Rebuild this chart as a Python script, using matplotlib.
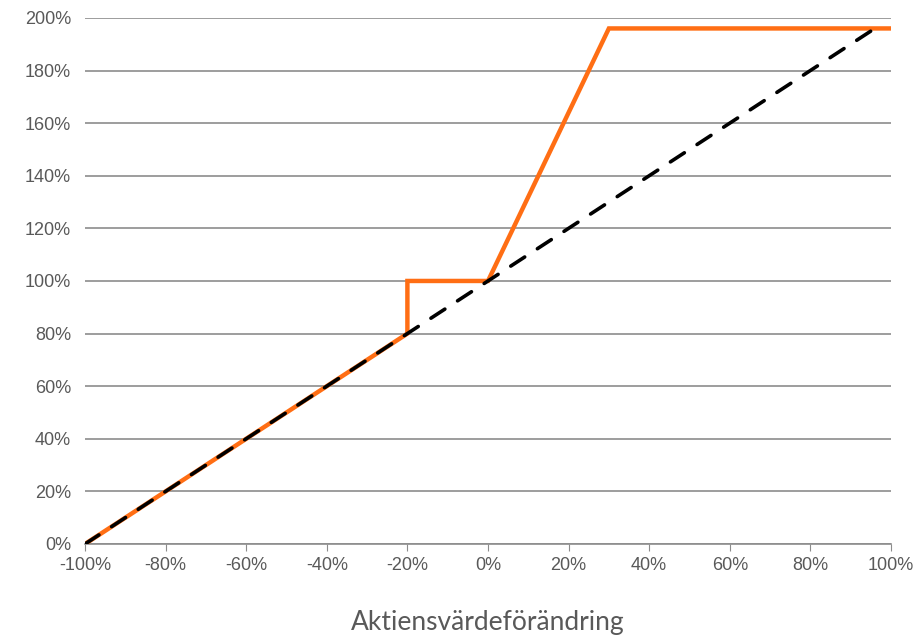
import matplotlib.pyplot as plt
from matplotlib.ticker import FuncFormatter

# Data (percent)
orange_x = [-100, -20, -20, 0, 30, 100]
orange_y = [0, 80, 100, 100, 196, 196]
dashed_x = [-100, 98]
dashed_y = [0, 198]
x_ticks = list(range(-100, 101, 20))
y_ticks = list(range(0, 201, 20))

plt.rcParams['font.family'] = ['Liberation Sans', 'DejaVu Sans']

fig = plt.figure(figsize=(9.19, 6.4), dpi=100)
ax = fig.add_axes([0.0925, 0.15, 0.877, 0.822])

ax.plot(orange_x, orange_y, color='#FF6E14', lw=3.2, solid_joinstyle='miter', zorder=3)
ax.plot(dashed_x, dashed_y, color='black', lw=2.6, dashes=(4.6, 4.2),
        dash_capstyle='round', zorder=4)

ax.set_xlim(-100, 100)
ax.set_ylim(0, 200)
ax.set_xticks(x_ticks)
ax.set_yticks(y_ticks)
fmt = FuncFormatter(lambda v, p: f'{int(v)}%')
ax.xaxis.set_major_formatter(fmt)
ax.yaxis.set_major_formatter(fmt)

ax.grid(axis='y', color='#8C8C8C', lw=1.2)
ax.set_axisbelow(True)
for s in ['top', 'right', 'left']:
    ax.spines[s].set_visible(False)
ax.spines['bottom'].set_color('#8C8C8C')
ax.spines['bottom'].set_linewidth(1.2)
ax.tick_params(axis='y', length=0, labelsize=13, labelcolor='#595959', pad=10)
ax.tick_params(axis='x', length=5, color='#8C8C8C', labelsize=13,
               labelcolor='#595959', pad=4)

ax.set_xlabel('Aktiensvärdeförändring', family='Lato', fontsize=19,
              color='#595959', labelpad=26)

fig.savefig('out.png', dpi=100)
